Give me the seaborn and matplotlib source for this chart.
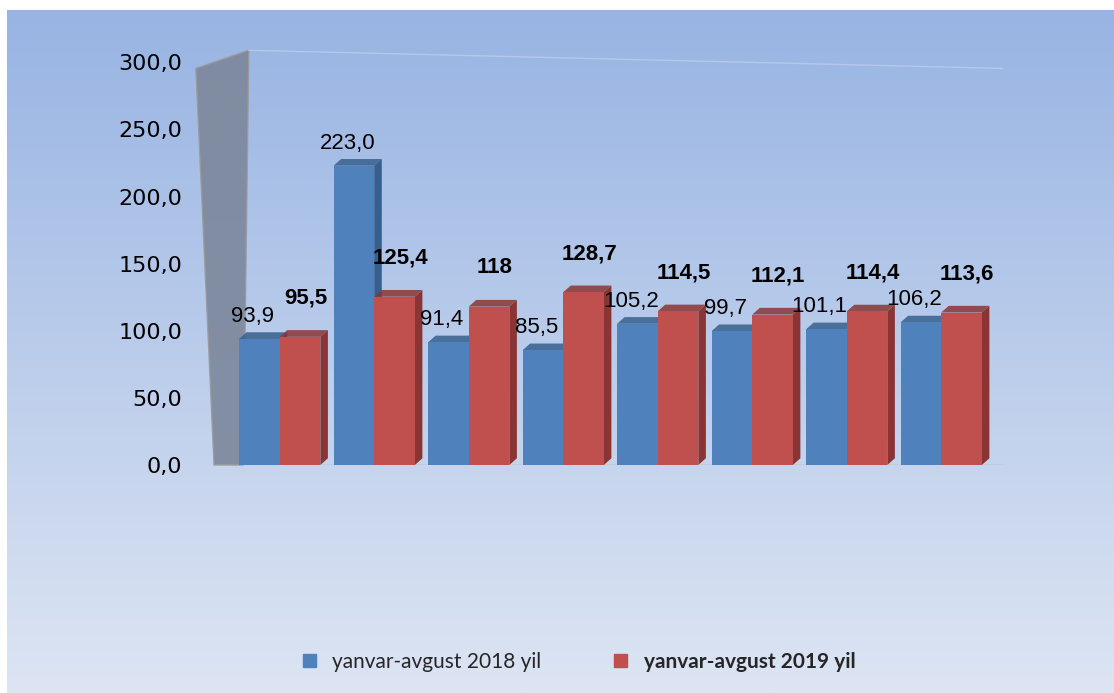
import numpy as np
import pandas as pd
import matplotlib
matplotlib.use("Agg")
import matplotlib.pyplot as plt
from matplotlib.patches import Polygon, Rectangle
import seaborn as sns

# data
groups = ["1", "2", "3", "4", "5", "6", "7", "8"]
vals_2018 = [93.9, 223.0, 91.4, 85.5, 105.2, 99.7, 101.1, 106.2]
vals_2019 = [95.5, 125.4, 118, 128.7, 114.5, 112.1, 114.4, 113.6]
labels_2018 = ["93,9", "223,0", "91,4", "85,5", "105,2", "99,7", "101,1", "106,2"]
labels_2019 = ["95,5", "125,4", "118", "128,7", "114,5", "112,1", "114,4", "113,6"]
series = ["yanvar-avgust 2018 yil", "yanvar-avgust 2019 yil"]
yticks = [0, 50, 100, 150, 200, 250, 300]

df = pd.DataFrame({
    "group": groups * 2,
    "value": vals_2018 + vals_2019,
    "series": [series[0]] * 8 + [series[1]] * 8,
})

sns.set_style("white")
plt.rcParams["font.family"] = ["Liberation Sans", "DejaVu Sans"]

blue = "#4F81BD"
red = "#C0504D"
blue_dark = "#365F8E"
red_dark = "#8A3533"

fig = plt.figure(figsize=(11.14, 6.93), dpi=100)
fig.patch.set_facecolor("white")

# gradient background panel
bg = fig.add_axes([0.006, 0.0, 0.994, 0.985])
grad = np.linspace(0, 1, 256).reshape(-1, 1)
top_c = np.array([0x98, 0xB4, 0xE3]) / 255
bot_c = np.array([0xDD, 0xE5, 0xF3]) / 255
img = top_c * (1 - grad[..., None]) + bot_c * grad[..., None]
bg.imshow(img, aspect="auto", extent=[0, 1, 0, 1])
bg.axis("off")

ax = fig.add_axes([0.19, 0.329, 0.71, 0.581])
ax.patch.set_alpha(0)
sns.barplot(data=df, x="group", y="value", hue="series", palette=[blue, red],
            width=0.86, gap=0.0, saturation=1, linewidth=0, ax=ax, legend=False, zorder=3)
bars = [p for p in ax.patches if isinstance(p, Rectangle) and p.get_height() > 0]

ax.set_ylim(0, 300)
ax.set_xlim(-0.72, 7.65)
ax.set_yticks(yticks)
ax.set_yticklabels([f"{t:.1f}".replace(".", ",") for t in yticks],
                   fontsize=16, family=["DejaVu Sans"])
ax.set_xticks([])
ax.set_xlabel("")
ax.set_ylabel("")
for s in ["top", "right", "bottom", "left"]:
    ax.spines[s].set_visible(False)
ax.tick_params(axis="y", length=7, color="#8C8C8C", pad=14, labelcolor="black")

# gray back wall on the left
wall = Polygon([(0.003, 0.0), (0.04, 0.0), (0.047, 1.03), (-0.02, 0.985)], closed=True,
               transform=ax.transAxes, facecolor="#7C879B", edgecolor="#9A9A9A",
               lw=1, alpha=0.9, zorder=1, clip_on=False)
ax.add_patch(wall)
ax.plot([0.047, 1.0], [1.03, 0.985], transform=ax.transAxes, color="#B5C8EA",
        lw=1, zorder=1, clip_on=False)
ax.plot([0.003, 1.0], [0.0, 0.0], transform=ax.transAxes, color="#A8A8A8", lw=1, zorder=1)

# fake depth: side and top faces built from the seaborn bars
dx, dy = 0.08, 5
for i, p in enumerate(bars):
    x0 = p.get_x()
    w = p.get_width()
    h = p.get_height()
    dark = blue_dark if i < 8 else red_dark
    side = Polygon([(x0 + w, 0), (x0 + w + dx, dy), (x0 + w + dx, h + dy), (x0 + w, h)],
                   closed=True, facecolor=dark, edgecolor="none", zorder=2)
    topf = Polygon([(x0, h), (x0 + dx, h + dy), (x0 + w + dx, h + dy), (x0 + w, h)],
                   closed=True, facecolor=dark, edgecolor="none", alpha=0.85, zorder=2)
    ax.add_patch(side)
    ax.add_patch(topf)

# value labels (2019 ones sit a little higher, as in the original)
for i in range(8):
    b1 = bars[i]
    b2 = bars[i + 8]
    ax.text(b1.get_x() + b1.get_width() / 2 - 0.07, vals_2018[i] + 9, labels_2018[i],
            ha="center", va="bottom", fontsize=16, color="black", zorder=5)
    ax.text(b2.get_x() + b2.get_width() / 2 + 0.06, vals_2019[i] + 21, labels_2019[i],
            ha="center", va="bottom", fontsize=16, fontweight="bold", color="black", zorder=5)

# legend
handles = [Rectangle((0, 0), 1, 1, color=blue), Rectangle((0, 0), 1, 1, color=red)]
leg = fig.legend(handles, series, loc="center", bbox_to_anchor=(0.52, 0.045), ncol=2,
                 frameon=False, handlelength=0.6, handleheight=0.6,
                 columnspacing=3.5, prop={"family": ["Lato", "DejaVu Sans"], "size": 15})
leg.get_texts()[1].set_fontweight("bold")

fig.savefig("out.png", dpi=100)
